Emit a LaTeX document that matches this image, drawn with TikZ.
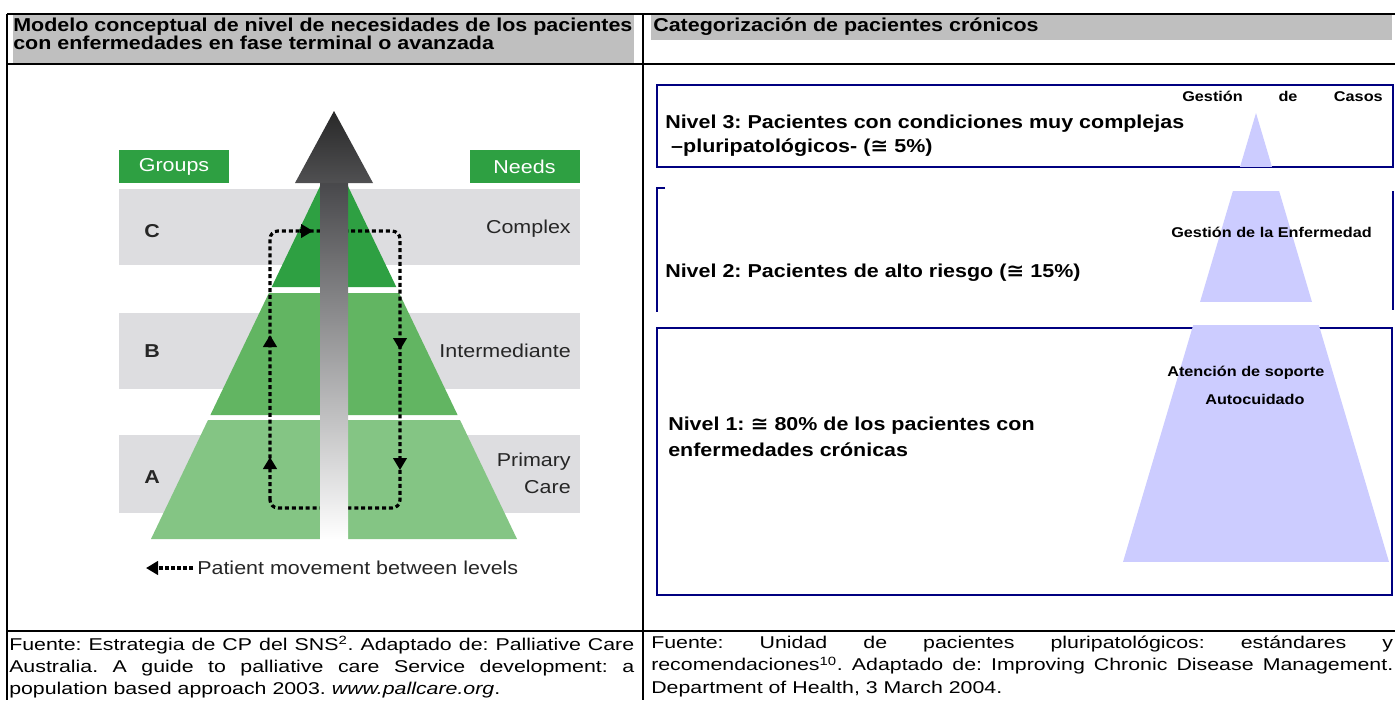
\documentclass[tikz,border=0pt]{standalone}
\usepackage{fontspec}
\setmainfont{Liberation Sans}[FakeStretch=1.15]
\newfontfamily\symfont{DejaVu Sans}[FakeStretch=1.15]
\newfontfamily\piefont{Liberation Sans}[FakeStretch=1.25]
\usetikzlibrary{arrows.meta}

\definecolor{cabecera}{rgb}{0.75,0.75,0.75}
\definecolor{franja}{RGB}{221,221,224}
\definecolor{verdeA}{RGB}{46,160,66}
\definecolor{verdeB}{RGB}{98,181,98}
\definecolor{verdeC}{RGB}{132,197,132}
\definecolor{marino}{RGB}{0,0,128}
\definecolor{lavanda}{RGB}{204,204,255}

\newcommand{\aprox}{{\symfont ≅}}
\frenchspacing

\begin{document}
\begin{tikzpicture}[x=0.75pt, y=-0.75pt,
    tabla/.style={black, line width=1.5pt},
    caja/.style={marino, line width=1.5pt},
    titulo/.style={font=\fontsize{14}{17}\selectfont\bfseries, anchor=base west, inner sep=0pt},
    gestion/.style={font=\fontsize{10.6}{12}\selectfont\bfseries, inner sep=0pt},
    etiq/.style={font=\fontsize{14}{16}\selectfont, inner sep=0pt, text=black!85},
    verdebox/.style={fill=verdeA, text=white, font=\fontsize{14}{16}\selectfont, minimum width=82.5pt, minimum height=24.75pt, inner sep=0pt},
    bucle/.style={line width=2.4pt, dash pattern=on 3pt off 2.2pt},
    punta/.style={-{Triangle[length=9pt,width=10pt]}, line width=2.4pt},
    pie/.style={font=\piefont\fontsize{12.8}{16.6}\selectfont, inner sep=0pt, anchor=north west, align=justify}]
    \clip (0,0) rectangle (1395,700);
    \fill[white] (0,0) rectangle (1395,700);

    % cabeceras
    \fill[cabecera] (13,15) rectangle (634,63);
    \fill[cabecera] (651,15) rectangle (1392,40);
    \node[titulo] (titL1) at (13,31) {Modelo conceptual de nivel de necesidades de los pacientes};
    \node[titulo] (titL2) at (13,49) {con enfermedades en fase terminal o avanzada};
    \node[titulo] (titR) at (653,31) {Categorización de pacientes crónicos};

    % piramide
    \fill[franja] (119,189) rectangle (580,265);
    \fill[franja] (119,313) rectangle (580,389);
    \fill[franja] (119,435) rectangle (580,513);
    \fill[verdeA] (334,157) -- (271.7,287) -- (396.3,287) -- cycle;
    \fill[verdeB] (268.9,293) -- (399.1,293) -- (457.6,415) -- (210.4,415) -- cycle;
    \fill[verdeC] (208,420) -- (460,420) -- (517,539) -- (151,539) -- cycle;

    \draw[bucle, rounded corners=6] (270,508) -- (270,231) -- (400,231) -- (400,508) -- cycle;
    \draw[punta] (270,347) -- (270,335);
    \draw[punta] (270,469) -- (270,457);
    \draw[punta] (400,338) -- (400,350);
    \draw[punta] (400,458) -- (400,470);
    \draw[punta] (300,231) -- (313,231);

    \shade[top color={rgb,255:red,72;green,72;blue,75}, bottom color=white] (320,183) rectangle (348,539);
    \shade[top color={rgb,255:red,40;green,40;blue,40}, bottom color={rgb,255:red,80;green,80;blue,82}] (295,183) -- (334,111) -- (373,183) -- cycle;

    \node[verdebox] (grupos) at (174,166.5) {Groups};
    \node[verdebox] (necesid) at (524.5,166.5) {Needs};
    \node[etiq, font=\fontsize{14}{16}\selectfont\bfseries] (letC) at (152,231) {C};
    \node[etiq, font=\fontsize{14}{16}\selectfont\bfseries] (letB) at (152,351) {B};
    \node[etiq, font=\fontsize{14}{16}\selectfont\bfseries] (letA) at (152,477) {A};
    \node[etiq, anchor=east] (necC) at (571,229) {Complex};
    \node[etiq, anchor=east] (necB) at (571,351) {Intermediante};
    \node[etiq, anchor=east] (necA1) at (571,462) {Primary};
    \node[etiq, anchor=east] (necA2) at (571,487) {Care};

    \draw[line width=2.4pt, dash pattern=on 3pt off 1.5pt, -{Triangle[length=9pt,width=10pt]}] (193,568) -- (146,568);
    \node[etiq, anchor=west] (leyenda) at (197,568) {Patient movement between levels};

    % niveles
    \draw[caja] (657,85) rectangle (1393,167);
    \draw[caja] (665,188) -- (657,188) -- (657,312);
    \draw[caja] (1393,191) -- (1393,310);
    \draw[caja] (657,328) rectangle (1392,595);

    \begin{scope}
        \clip (1256,113) -- (1123,562) -- (1389,562) -- cycle;
        \fill[lavanda] (1100,113) rectangle (1400,167);
        \fill[lavanda] (1100,191) rectangle (1400,302);
        \fill[lavanda] (1100,325) rectangle (1400,562);
    \end{scope}

    \node[titulo] (niv3a) at (665,128) {Nivel 3: Pacientes con condiciones muy complejas};
    \node[titulo] (niv3b) at (665,152) {\ –pluripatológicos- (\aprox{} 5\%)};
    \node[titulo] (niv2) at (665,277) {Nivel 2: Pacientes de alto riesgo (\aprox{} 15\%)};
    \node[titulo] (niv1a) at (668,430) {Nivel 1: \aprox{} 80\% de los pacientes con};
    \node[titulo] (niv1b) at (668,456) {enfermedades crónicas};

    \node[gestion, anchor=base west] (gcasos1) at (1182,101) {Gestión};
    \node[gestion, anchor=base] (gcasos2) at (1288,101) {de};
    \node[gestion, anchor=base east] (gcasos3) at (1383,101) {Casos};
    \node[gestion, anchor=base west] (genf) at (1171,237) {Gestión de la Enfermedad};
    \node[gestion, anchor=base west] (soporte) at (1167,376) {Atención de soporte};
    \node[gestion, anchor=base west] (autoc) at (1205,404) {Autocuidado};

    % tabla
    \draw[tabla] (7,14) -- (1395,14);
    \draw[tabla] (7,64) -- (1395,64);
    \draw[tabla] (7,631) -- (1395,631);
    \draw[tabla] (7,14) -- (7,700);
    \draw[tabla] (643,14) -- (643,700);

    % fuentes
    \node[pie, text width=468.75pt] (pieL) at (9,636) {\hyphenpenalty=10000 Fuente: Estrategia de CP del SNS\textsuperscript{2}. Adaptado de: Palliative Care\linebreak Australia. A guide to palliative care Service development: a\linebreak population based approach 2003. \textit{www.pallcare.org}.};
    \node[pie, text width=556.5pt] (pieR) at (651,636) {\hyphenpenalty=10000 Fuente: Unidad de pacientes pluripatológicos: estándares y\linebreak recomendaciones\textsuperscript{10}. Adaptado de: Improving Chronic Disease Management.\linebreak Department of Health, 3 March 2004.};
\end{tikzpicture}
\end{document}
